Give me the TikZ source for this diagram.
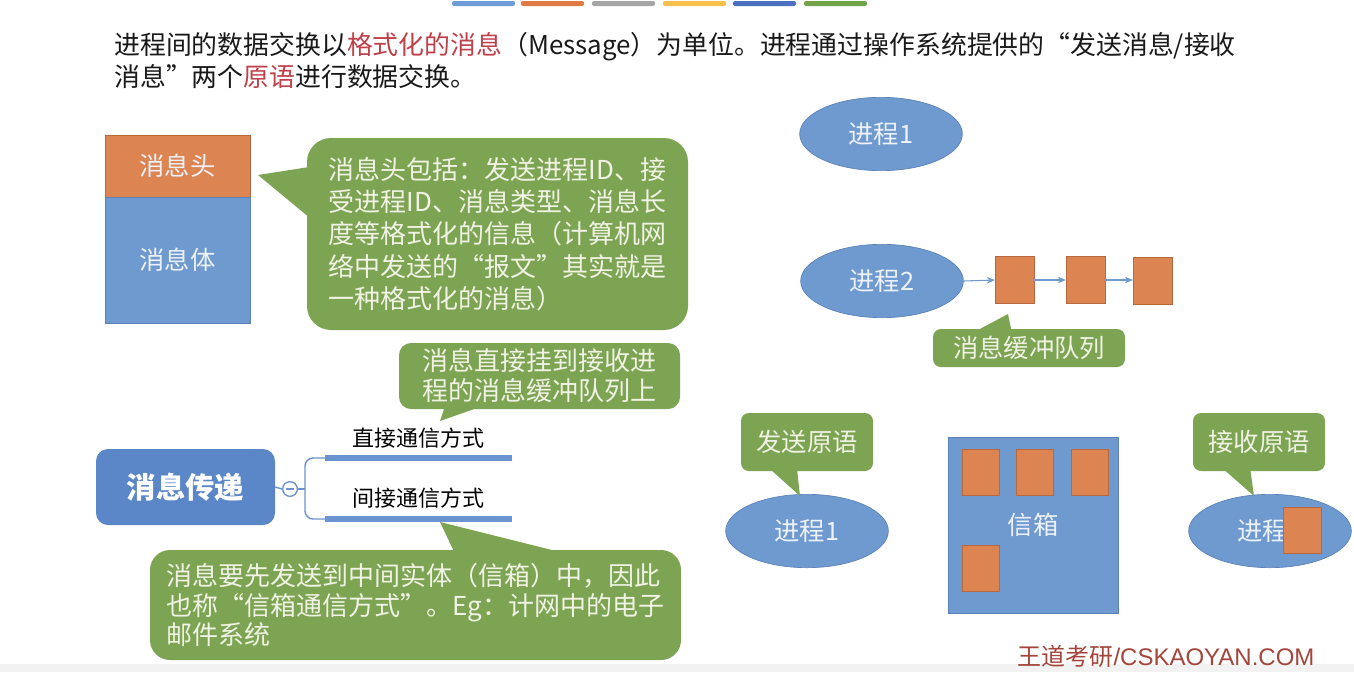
\documentclass[tikz,border=0pt]{standalone}
\usepackage{fontspec}
\setmainfont{Noto Sans CJK SC}
\newfontfamily\wmlatin{Liberation Sans}
\usetikzlibrary{shapes.geometric,arrows.meta}
\definecolor{shapeblue}{HTML}{6E9AD0}
\definecolor{shapeborder}{HTML}{5A82B8}
\definecolor{msgorange}{HTML}{DC8452}
\definecolor{orangeborder}{HTML}{B8683C}
\definecolor{callgreen}{HTML}{7DA453}
\definecolor{calltext}{HTML}{F0F2E4}
\definecolor{mapblue}{HTML}{5B86C8}
\definecolor{mapline}{HTML}{6A93CF}
\definecolor{hired}{HTML}{C0404A}
\definecolor{wmred}{HTML}{A3453A}
\definecolor{lighttext}{HTML}{EEF2F8}
\definecolor{barA}{HTML}{6F9BD6}
\definecolor{barB}{HTML}{E07B45}
\definecolor{barC}{HTML}{A5A5A5}
\definecolor{barD}{HTML}{F5C14A}
\definecolor{barE}{HTML}{4C6FC0}
\definecolor{barF}{HTML}{72A34B}
\begin{document}
\begin{tikzpicture}[x=0.75pt,y=-0.75pt,
  headtext/.style={inner sep=0pt, anchor=west, text=black!90, font=\fontsize{19.4}{23}\selectfont},
  bluebox/.style={fill=shapeblue, draw=shapeborder, line width=0.5pt, inner sep=0pt, text=lighttext, font=\fontsize{19}{23}\selectfont},
  orangebox/.style={fill=msgorange, draw=orangeborder, line width=0.5pt, inner sep=0pt, text=lighttext, font=\fontsize{19}{23}\selectfont},
  blueell/.style={ellipse, fill=shapeblue, draw=shapeborder, line width=0.5pt, inner sep=0pt, minimum width=122pt, minimum height=55pt, text=lighttext, font=\fontsize{19}{23}\selectfont},
  callbox/.style={fill=callgreen, inner sep=0pt, align=left, text=calltext},
  calltip/.style={fill=callgreen},
  mapthin/.style={draw=mapline, line width=1.1pt},
  mapthick/.style={draw=mapline, line width=4.5pt},
  chainarrow/.style={draw=shapeblue, line width=0.8pt, -{Stealth[length=6pt,width=5pt]}},
  labeltext/.style={inner sep=0pt, text=black, font=\fontsize{16.5}{20}\selectfont}
]
\useasboundingbox (0,0) rectangle (1354,672);
\fill[white] (0,0) rectangle (1354,672);
\fill[black!5] (0,664) rectangle (1354,672);

% top colour bars
\foreach \x/\c in {452/barA,521/barB,592/barC,663/barD,733/barE,804/barF}
  \fill[\c, rounded corners=1.5pt] (\x,1) rectangle ++(63,5);

% header
\node[headtext] (head1) at (114,47) {进程间的数据交换以\textcolor{hired}{格式化的消息}（Message）为单位。进程通过操作系统提供的“发送消息/接收};
\node[headtext] (head2) at (114,77) {消息”两个\textcolor{hired}{原语}进行数据交换。};

% message structure
\node[orangebox, minimum width=108.75pt, minimum height=46.5pt] (mhead) at (177.5,166) {消息头};
\node[bluebox, minimum width=108.75pt, minimum height=94.5pt] (mbody) at (177.5,260) {消息体};

% callout 1
\fill[calltip] (258,175) -- (322,165) -- (322,228) -- cycle;
\node[callbox, rounded corners=18pt, minimum width=285.75pt, minimum height=144pt,
  font=\fontsize{19.5}{24.2}\selectfont] (c1) at (497.5,234)
  {消息头包括：发送进程ID、接\\受进程ID、消息类型、消息长\\度等格式化的信息（计算机网\\络中发送的“报文”其实就是\\一种格式化的消息）};

% mind map
\node[fill=mapblue, rounded corners=9pt, inner sep=0pt, minimum width=134.25pt, minimum height=57pt,
  text=white, font=\fontsize{22}{26}\selectfont\bfseries] (mm) at (185.5,487) {消息传递};
\coordinate (d1s) at (325,458);
\coordinate (d1e) at (512,458);
\coordinate (d2s) at (325,519);
\coordinate (d2e) at (512,519);
\draw[mapthin, rounded corners=6pt] (d1s) -- (305,458) -- (305,519) -- (d2s);
\node[circle, draw=mapline, line width=1pt, fill=white, inner sep=0pt, minimum size=11pt] (circ) at (290,489) {};
\draw[mapthin] (mm.east) -- (circ.west);
\draw[mapthin] (circ.east) -- (305,489);
\draw[draw=mapline, line width=1pt] (286,489) -- (294,489);
\draw[mapthick] (d1s) -- (d1e);
\draw[mapthick] (d2s) -- (d2e);
\node[labeltext] (direct) at (418,438) {直接通信方式};
\node[labeltext] (indirect) at (418,498) {间接通信方式};

% callout 2
\fill[calltip] (440,421) -- (447,400) -- (500,400) -- cycle;
\node[callbox, rounded corners=9pt, minimum width=210.75pt, minimum height=49.5pt,
  font=\fontsize{19.5}{22.5}\selectfont] (c2) at (539.5,376)
  {消息直接挂到接收进\\程的消息缓冲队列上};

% callout 3
\fill[calltip] (440,522) -- (458,560) -- (592,560) -- cycle;
\node[callbox, rounded corners=15pt, minimum width=398.25pt, minimum height=82.5pt,
  font=\fontsize{19.5}{22.2}\selectfont] (c3) at (415.5,605)
  {消息要先发送到中间实体（信箱）中，因此\\也称“信箱通信方式”。Eg：计网中的电子\\邮件系统};

% direct communication
\node[blueell] (p1top) at (881,134) {进程1};
\node[blueell] (p2) at (882,281) {进程2};
\node[orangebox, minimum width=29pt, minimum height=35pt] (q1) at (1014.5,280) {};
\node[orangebox, minimum width=29pt, minimum height=35pt] (q2) at (1085.5,280) {};
\node[orangebox, minimum width=29pt, minimum height=35pt] (q3) at (1152.5,281) {};
\draw[chainarrow] (p2.east) -- (q1.west);
\draw[chainarrow] (q1.east) -- (q2.west);
\draw[chainarrow] (q2.east) -- (q3.west |- q2.east);
\fill[calltip] (1008,314) -- (963,338) -- (1013,338) -- cycle;
\node[callbox, rounded corners=6pt, minimum width=144pt, minimum height=28.5pt,
  font=\fontsize{19}{23}\selectfont] (c4) at (1029,348) {消息缓冲队列};

% indirect communication
\node[blueell] (s1) at (807,531) {进程1};
\fill[calltip] (800,496) -- (760,460) -- (796,460) -- cycle;
\node[callbox, rounded corners=6pt, minimum width=99pt, minimum height=43.5pt,
  font=\fontsize{19}{23}\selectfont] (c5) at (807,442) {发送原语};

\node[bluebox, minimum width=127.5pt, minimum height=132pt] (mailbox) at (1033,525) {信箱};
\node[orangebox, minimum width=27.75pt, minimum height=34.5pt] (m1) at (980.5,472) {};
\node[orangebox, minimum width=27.75pt, minimum height=34.5pt] (m2) at (1035,472) {};
\node[orangebox, minimum width=27.75pt, minimum height=34.5pt] (m3) at (1089.5,472) {};
\node[orangebox, minimum width=27.75pt, minimum height=34.5pt] (m4) at (980.5,568.5) {};

\node[blueell] (r2) at (1270,531) {进程2};
\node[orangebox, minimum width=28.5pt, minimum height=34.5pt] (rm) at (1302,530) {};
\fill[calltip] (1254,496) -- (1213,460) -- (1249,460) -- cycle;
\node[callbox, rounded corners=6pt, minimum width=99pt, minimum height=43.5pt,
  font=\fontsize{19}{23}\selectfont] (c6) at (1259,442) {接收原语};

% footer mark
\node[inner sep=0pt, text=wmred, font=\fontsize{18}{21}\selectfont] (wm) at (1166,656) {王道考研{\wmlatin /CSKAOYAN.COM}};
\end{tikzpicture}
\end{document}
